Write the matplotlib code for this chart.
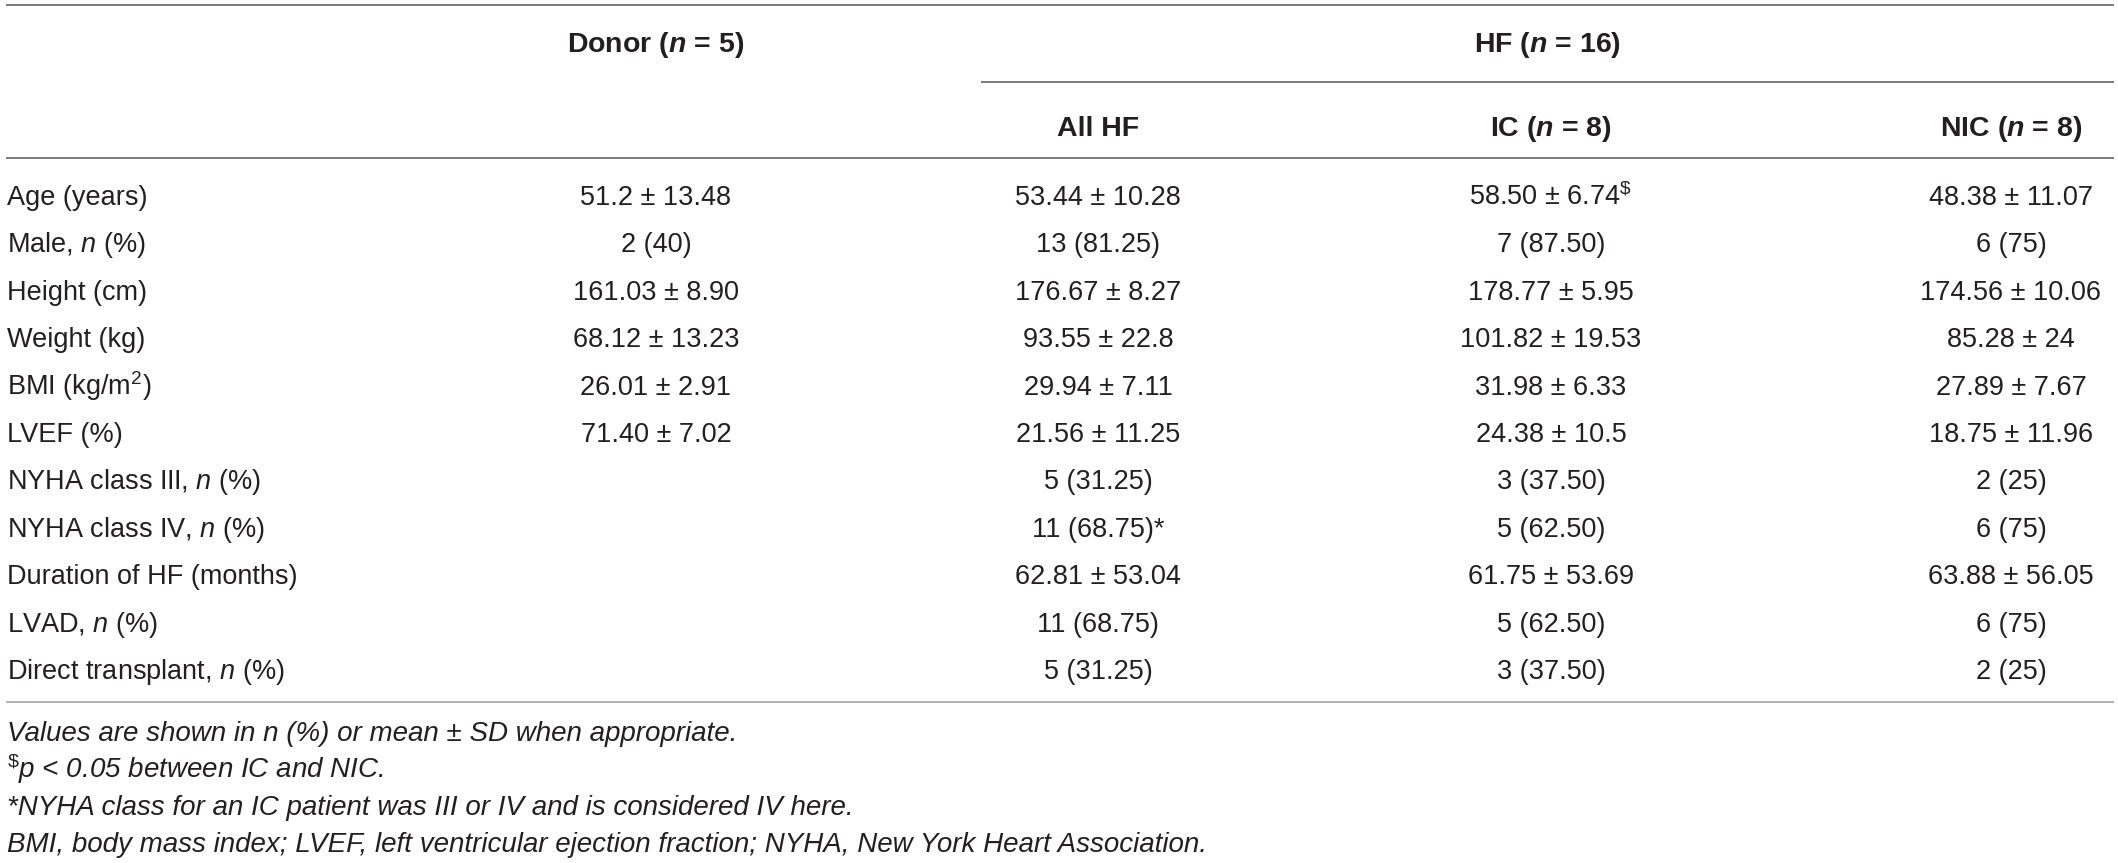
import matplotlib
matplotlib.use("Agg")
import matplotlib.pyplot as plt

# -------------------------
# Table content
# -------------------------
row_labels = [
    "Age (years)", "Male, $n$ (%)", "Height (cm)", "Weight (kg)",
    "BMI (kg/m$^2$)", "LVEF (%)", "NYHA class III, $n$ (%)",
    "NYHA class IV, $n$ (%)", "Duration of HF (months)", "LVAD, $n$ (%)",
    "Direct transplant, $n$ (%)",
]
donor = ["51.2 ± 13.48", "2 (40)", "161.03 ± 8.90", "68.12 ± 13.23",
         "26.01 ± 2.91", "71.40 ± 7.02", "", "", "", "", ""]
all_hf = ["53.44 ± 10.28", "13 (81.25)", "176.67 ± 8.27", "93.55 ± 22.8",
          "29.94 ± 7.11", "21.56 ± 11.25", "5 (31.25)", "11 (68.75)*",
          "62.81 ± 53.04", "11 (68.75)", "5 (31.25)"]
ic = [r"58.50 ± 6.74$^{\$}$", "7 (87.50)", "178.77 ± 5.95", "101.82 ± 19.53",
      "31.98 ± 6.33", "24.38 ± 10.5", "3 (37.50)", "5 (62.50)",
      "61.75 ± 53.69", "5 (62.50)", "3 (37.50)"]
nic = ["48.38 ± 11.07", "6 (75)", "174.56 ± 10.06", "85.28 ± 24",
       "27.89 ± 7.67", "18.75 ± 11.96", "2 (25)", "6 (75)",
       "63.88 ± 56.05", "6 (75)", "2 (25)"]

group_headers = [r"Donor ($\mathbfit{n}$ = 5)", r"HF ($\mathbfit{n}$ = 16)"]
sub_headers = ["All HF", r"IC ($\mathbfit{n}$ = 8)", r"NIC ($\mathbfit{n}$ = 8)"]

footnotes = [
    "Values are shown in n (%) or mean ± SD when appropriate.",
    r"$^{\$}p$ < 0.05 between IC and NIC.",
    "*NYHA class for an IC patient was III or IV and is considered IV here.",
    "BMI, body mass index; LVEF, left ventricular ejection fraction; NYHA, New York Heart Association.",
]

# -------------------------
# Fonts
# -------------------------
plt.rcParams["font.family"] = ["Liberation Sans", "DejaVu Sans"]
plt.rcParams["mathtext.fontset"] = "custom"
plt.rcParams["mathtext.rm"] = "Liberation Sans"
plt.rcParams["mathtext.it"] = "Liberation Sans:italic"
plt.rcParams["mathtext.bf"] = "Liberation Sans:bold"
plt.rcParams["mathtext.bfit"] = "Liberation Sans:italic:bold"

TXT = "#231f20"
LINE = "#7a7a7a"
FS = 19.5       # body
FS_HEAD = 20.5  # bold headers
FS_FOOT = 20    # italic notes

fig = plt.figure(figsize=(21.18, 8.63), dpi=100)
ax = fig.add_axes([0, 0, 1, 1])
ax.set_xlim(0, 2118)
ax.set_ylim(863, 0)
ax.axis("off")

# column centres (pixels)
label_x = 7
col_x = [656, 1098, 1551, 2011]

# rules
ax.plot([7, 2113], [5, 5], color=LINE, lw=1.4)
ax.plot([982, 2113], [82, 82], color=LINE, lw=1.4)
ax.plot([7, 2113], [158, 158], color=LINE, lw=1.4)
ax.plot([7, 2113], [702, 702], color="#b0b0b0", lw=1.4)

# headers
ax.text(col_x[0], 52, group_headers[0], ha="center", va="baseline",
        fontsize=FS_HEAD, fontweight="bold", color=TXT)
ax.text(1548, 52, group_headers[1], ha="center", va="baseline",
        fontsize=FS_HEAD, fontweight="bold", color=TXT)
for x, h in zip(col_x[1:], sub_headers):
    ax.text(x, 136, h, ha="center", va="baseline",
            fontsize=FS_HEAD, fontweight="bold", color=TXT)

# body rows
row_y0 = 205
row_step = 47.4
for i, lab in enumerate(row_labels):
    y = row_y0 + i * row_step
    ax.text(label_x, y, lab, ha="left", va="baseline", fontsize=FS, color=TXT)
    for x, col in zip(col_x, [donor, all_hf, ic, nic]):
        if col[i]:
            ax.text(x, y, col[i], ha="center", va="baseline", fontsize=FS, color=TXT)

# footnotes
foot_y = [741, 778, 815, 852]
for y, f in zip(foot_y, footnotes):
    ax.text(label_x, y, f, ha="left", va="baseline", fontsize=FS_FOOT,
            style="italic", color=TXT)

fig.savefig("out.png", dpi=100)
